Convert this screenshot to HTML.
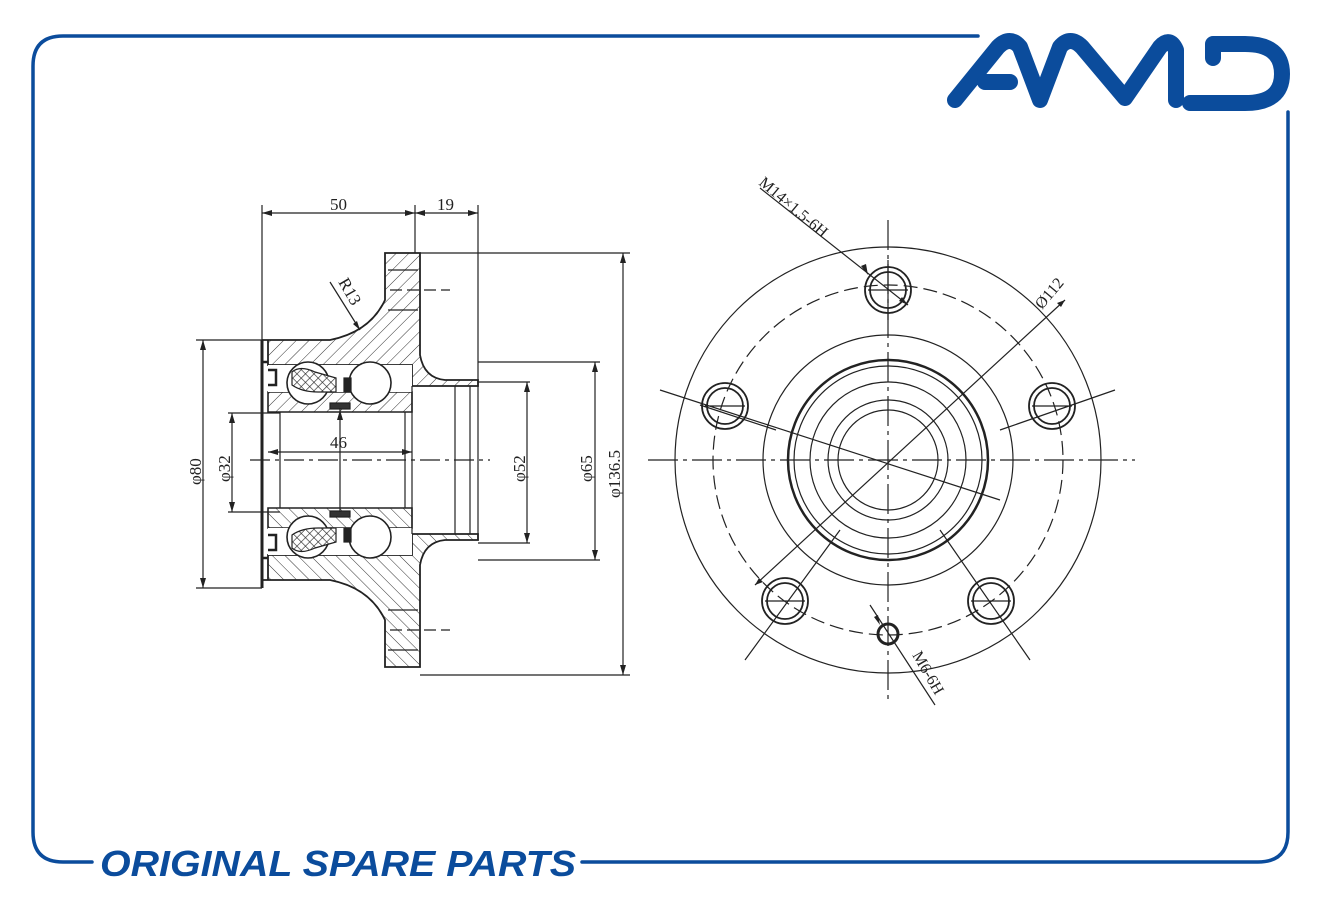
<!DOCTYPE html>
<html><head><meta charset="utf-8"><style>
html,body{margin:0;padding:0;background:#fff;}
svg{display:block;}
text{font-family:"Liberation Serif",serif;fill:#222;}
text.brand{font-family:"Liberation Sans",sans-serif;font-weight:bold;font-style:italic;fill:#0b4c9c;}
</style></head><body>
<svg width="1321" height="900" viewBox="0 0 1321 900" xmlns="http://www.w3.org/2000/svg">
<defs>
<pattern id="h" width="9" height="9" patternUnits="userSpaceOnUse" patternTransform="rotate(45)">
<rect width="9" height="9" fill="#fff"/><line x1="0" y1="0" x2="0" y2="9" stroke="#333" stroke-width="1"/></pattern>
<pattern id="x" width="6" height="6" patternUnits="userSpaceOnUse" patternTransform="rotate(45)">
<rect width="6" height="6" fill="#fff"/><path d="M0 0V6M0 0H6" stroke="#222" stroke-width="1.3"/></pattern>
</defs>
<!-- frame -->
<g fill="none" stroke="#0b4c9c" stroke-width="3.5" stroke-linecap="round">
<path d="M978 36 H63 Q33 36 33 66 V832 Q33 862 63 862 H92"/>
<path d="M582 862 H1258 Q1288 862 1288 832 V112"/>
</g>
<text class="brand" x="100" y="876" font-size="36" textLength="476" lengthAdjust="spacingAndGlyphs">ORIGINAL SPARE PARTS</text>
<!-- logo -->
<g fill="none" stroke="#0b4c9c" stroke-width="16" stroke-linecap="round" stroke-linejoin="round">
<path d="M955 100 L998 47 Q1010 35 1020 47 L1040 100 L1060 47 Q1070 35 1082 47 L1125 98 L1160 47 Q1170 36 1176 50 L1176 100"/>
<path d="M985 82 H1010"/>
<path d="M1213 58 V44 H1245 Q1282 44 1282 74 Q1282 103 1245 103 H1190"/>
</g>
<!-- LEFT VIEW -->
<g stroke="#222" stroke-width="1.2" fill="none">
<g id="half">
<path d="M262 340 L330 340 Q370 332 385 300 L385 253 L420 253 L420 355 Q424 378 445 380 L478 380 L478 386 L412 386 L412 365 L268 365 L268 340 Z" fill="url(#h)" stroke-width="1.8"/>
<path d="M268 392 L412 392 L412 412 L268 412 Z" fill="url(#h)" stroke-width="1.6"/>
<rect x="268" y="365" width="144" height="27" fill="#fff" stroke="none"/>
<circle cx="308" cy="383" r="21" fill="#fff" stroke-width="1.6"/>
<circle cx="370" cy="383" r="21" fill="#fff" stroke-width="1.6"/>
<path d="M292 372 Q300 365 315 372 L336 378 L336 392 L318 392 Q302 392 292 385 Z" fill="url(#x)"/>
<rect x="344" y="378" width="7" height="14" fill="#222"/>
<rect x="330" y="403" width="20" height="6" fill="#333"/>
<path d="M262 340 V362 L268 362 M268 370 L276 370 L276 385 L268 385" stroke-width="2.5"/>
<line x1="390" y1="290" x2="450" y2="290" stroke-dasharray="12 5"/>
<line x1="388" y1="270" x2="418" y2="270"/>
<line x1="388" y1="310" x2="418" y2="310"/>
</g>
<use href="#half" transform="translate(0,920) scale(1,-1)"/>
<path d="M412 386 V534 M455 386 V534 M470 386 V534 M478 380 V540 M280 412 V508 M405 412 V508" />
<path d="M262 340 V588" stroke-width="3"/>
<line x1="250" y1="460" x2="490" y2="460" stroke-dasharray="20 5 4 5"/>
<path d="M262 205 V340 M415 205 V253 M478 205 V380 M262 213 H478 M196 340 H262 M196 588 H262 M228 413 H280 M228 512 H280 M478 382 H530 M478 543 H530 M478 362 H600 M478 560 H600 M420 253 H630 M420 675 H630 M340 408 V512 M268 452 H412"/>
<path d="M203 340 V588 M232 413 V512 M527 382 V543 M595 362 V560 M623 253 V675"/>
<path d="M330 282 L360 330"/>
<g fill="#222" stroke="none">
<path d="M262 213 l10 -3 v6z M415 213 l-10 -3 v6z M415 213 l10 -3 v6z M478 213 l-10 -3 v6z"/>
<path d="M203 340 l-3 10 h6z M203 588 l-3 -10 h6z M232 413 l-3 10 h6z M232 512 l-3 -10 h6z M527 382 l-3 10 h6z M527 543 l-3 -10 h6z M595 362 l-3 10 h6z M595 560 l-3 -10 h6z M623 253 l-3 10 h6z M623 675 l-3 -10 h6z"/>
<path d="M340 410 l-3 10 h6z M268 452 l10 -3 v6z M412 452 l-10 -3 v6z M360 330 l-7 -6 l4 -3z"/>
</g>
</g>
<g font-size="17">
<text x="330" y="210">50</text>
<text x="437" y="210">19</text>
<text x="330" y="448">46</text>
<text transform="translate(338,282) rotate(60)">R13</text>
<text transform="translate(201,485) rotate(-90)">φ80</text>
<text transform="translate(230,482) rotate(-90)">φ32</text>
<text transform="translate(525,482) rotate(-90)">φ52</text>
<text transform="translate(592,482) rotate(-90)">φ65</text>
<text transform="translate(620,498) rotate(-90)">φ136.5</text>
</g>
<!-- RIGHT VIEW -->
<g stroke="#222" stroke-width="1.2" fill="none">
<circle cx="888" cy="460" r="213"/>
<circle cx="888" cy="460" r="175" stroke-dasharray="14 6"/>
<circle cx="888" cy="460" r="125"/>
<circle cx="888" cy="460" r="100" stroke-width="2.5"/>
<circle cx="888" cy="460" r="94"/>
<circle cx="888" cy="460" r="78"/>
<circle cx="888" cy="460" r="60"/>
<circle cx="888" cy="460" r="50"/>
<line x1="648" y1="460" x2="1135" y2="460" stroke-dasharray="30 5 4 5"/>
<line x1="888" y1="220" x2="888" y2="700" stroke-dasharray="30 5 4 5"/>
<g stroke-width="1.8">
<circle cx="888" cy="290" r="23"/><circle cx="888" cy="290" r="18"/>
<circle cx="725" cy="406" r="23"/><circle cx="725" cy="406" r="18"/>
<circle cx="1052" cy="406" r="23"/><circle cx="1052" cy="406" r="18"/>
<circle cx="785" cy="601" r="23"/><circle cx="785" cy="601" r="18"/>
<circle cx="991" cy="601" r="23"/><circle cx="991" cy="601" r="18"/>
<circle cx="888" cy="634" r="10" stroke-width="3"/>
</g>
<path d="M660 390 L1000 500 M776 430 L700 405 M1115 390 L1000 430 M745 660 L840 530 M1030 660 L940 530 M888 260 V320 M868 290 H908 M705 406 H745 M1032 406 H1072 M765 601 H805 M971 601 H1011"/>
<path d="M755 585 L1065 300"/>
<path d="M760 188 L908 305"/>
<path d="M870 605 L935 705"/>
<g fill="#222" stroke="none">
<path d="M868 275 l-7 -9 l5 -2z M908 305 l-9 -4 l3 -4z M1065 300 l-8 3 l4 4z M755 585 l8 -3 l-4 -4z M880 625 l-6 -8 l4 -2z"/>
</g>
</g>
<g font-size="16">
<text transform="translate(758,184) rotate(40)">M14×1.5-6H</text>
<text transform="translate(1042,310) rotate(-50)">Ø112</text>
<text transform="translate(912,655) rotate(60)">M6-6H</text>
</g>
</svg>
</body></html>
